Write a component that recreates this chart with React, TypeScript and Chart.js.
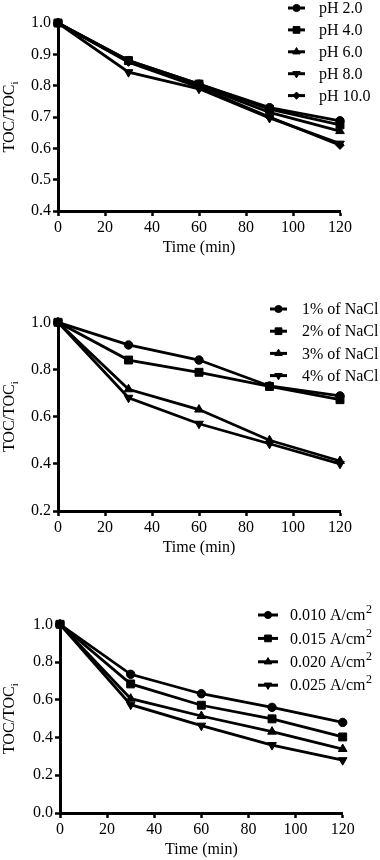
import React, { useEffect, useRef } from 'react';
import { Chart, registerables } from 'chart.js';
import { drawPoint } from 'chart.js/helpers';

Chart.register(...registerables);

const times = [0, 30, 60, 90, 120];

const phLabels = ['pH 2.0', 'pH 4.0', 'pH 6.0', 'pH 8.0', 'pH 10.0'];
const ph2 = [1.0, 0.88, 0.805, 0.73, 0.688];
const ph4 = [1.0, 0.88, 0.805, 0.725, 0.675];
const ph6 = [1.0, 0.877, 0.8, 0.715, 0.655];
const ph8 = [1.0, 0.843, 0.79, 0.697, 0.615];
const ph10 = [1.0, 0.875, 0.795, 0.7, 0.61];

const naclLabels = ['1% of NaCl', '2% of NaCl', '3% of NaCl', '4% of NaCl'];
const nacl1 = [1.0, 0.904, 0.84, 0.73, 0.688];
const nacl2 = [1.0, 0.84, 0.788, 0.728, 0.672];
const nacl3 = [1.0, 0.716, 0.63, 0.5, 0.412];
const nacl4 = [1.0, 0.68, 0.57, 0.485, 0.4];

const cdLabels = ['0.010 A/cm\u00B2', '0.015 A/cm\u00B2', '0.020 A/cm\u00B2', '0.025 A/cm\u00B2'];
const cd010 = [1.0, 0.735, 0.632, 0.56, 0.48];
const cd015 = [1.0, 0.684, 0.571, 0.499, 0.403];
const cd020 = [1.0, 0.606, 0.514, 0.431, 0.339];
const cd025 = [1.0, 0.574, 0.463, 0.36, 0.28];

const xTitle = 'Time (min)';
const yTitleMain = 'TOC/TOC';
const yTitleSub = 'i';

const FONT = '"Liberation Serif", "Times New Roman", serif';

const markers = [
  { pointStyle: 'circle', radius: 4.2, rotation: 0 },
  { pointStyle: 'rect', radius: 5.6, rotation: 0 },
  { pointStyle: 'triangle', radius: 5, rotation: 0 },
  { pointStyle: 'triangle', radius: 5, rotation: 180 },
  { pointStyle: 'rectRot', radius: 4.2, rotation: 0 },
];

type Area = { left: number; right: number; top: number; bottom: number };
type Leg = { x1: number; x2: number; textX: number; y0: number; dy: number };

function Panel(props: {
  top: number;
  height: number;
  labels: string[];
  series: number[][];
  yMin: number;
  yMax: number;
  yStep: number;
  area: Area;
  legend: Leg;
  xTitleY: number;
}) {
  const ref = useRef<HTMLCanvasElement | null>(null);
  useEffect(() => {
    const canvas = ref.current;
    if (!canvas) return;
    const W = 380;
    const H = props.height;
    const { area, legend } = props;
    const xH = 22;
    const datasets = props.series.map((vals, i) => ({
      label: props.labels[i],
      data: times.map((t, j) => ({ x: t, y: vals[j] })),
      borderColor: '#000',
      backgroundColor: '#000',
      borderWidth: 2.8,
      pointStyle: markers[i].pointStyle as any,
      pointRadius: markers[i].radius,
      pointRotation: markers[i].rotation,
      pointBorderWidth: 1,
      pointBorderColor: '#000',
      pointBackgroundColor: '#000',
      tension: 0,
      clip: false as any,
    }));
    const deco = {
      id: 'deco',
      afterDraw(chart: any) {
        const ctx = chart.ctx as CanvasRenderingContext2D;
        const ca = chart.chartArea;
        ctx.save();
        ctx.fillStyle = '#000';
        // x title
        ctx.font = `16px ${FONT}`;
        ctx.textAlign = 'center';
        ctx.textBaseline = 'middle';
        ctx.fillText(xTitle, (ca.left + ca.right) / 2, props.xTitleY);
        // y title
        ctx.save();
        ctx.translate(10, (ca.top + ca.bottom) / 2);
        ctx.rotate(-Math.PI / 2);
        ctx.font = `16px ${FONT}`;
        const wMain = ctx.measureText(yTitleMain).width;
        ctx.font = `11px ${FONT}`;
        const wSub = ctx.measureText(yTitleSub).width;
        const start = -(wMain + wSub) / 2;
        ctx.textAlign = 'left';
        ctx.textBaseline = 'middle';
        ctx.font = `16px ${FONT}`;
        ctx.fillText(yTitleMain, start, 0);
        ctx.font = `11px ${FONT}`;
        ctx.fillText(yTitleSub, start + wMain, 5);
        ctx.restore();
        // legend
        chart.data.datasets.forEach((ds: any, i: number) => {
          const y = legend.y0 + i * legend.dy;
          ctx.strokeStyle = '#000';
          ctx.lineWidth = 3;
          ctx.beginPath();
          ctx.moveTo(legend.x1, y);
          ctx.lineTo(legend.x2, y);
          ctx.stroke();
          ctx.fillStyle = '#000';
          ctx.lineWidth = 1;
          drawPoint(
            ctx,
            { pointStyle: markers[i].pointStyle as any, radius: markers[i].radius * 0.85, rotation: markers[i].rotation, borderWidth: 1 } as any,
            (legend.x1 + legend.x2) / 2,
            y
          );
          ctx.textAlign = 'left';
          ctx.textBaseline = 'middle';
          const label: string = ds.label;
          const supIdx = label.indexOf('\u00B2');
          if (supIdx >= 0) {
            const base = label.slice(0, supIdx);
            ctx.font = `16px ${FONT}`;
            ctx.fillText(base, legend.textX, y + 1);
            const bw = ctx.measureText(base).width;
            ctx.font = `12px ${FONT}`;
            ctx.fillText('2', legend.textX + bw + 0.5, y - 5);
          } else {
            ctx.font = `16px ${FONT}`;
            ctx.fillText(label, legend.textX, y + 1);
          }
        });
        ctx.restore();
      },
    };
    const chart = new Chart(canvas, {
      type: 'line',
      data: { datasets },
      options: {
        animation: false,
        responsive: false,
        devicePixelRatio: 1,
        layout: {
          padding: {
            left: 0,
            top: area.top,
            right: W - area.right,
            bottom: H - area.bottom - xH,
          },
        },
        plugins: { legend: { display: false }, tooltip: { enabled: false }, title: { display: false } },
        scales: {
          x: {
            type: 'linear',
            min: 0,
            max: 120,
            ticks: { stepSize: 20, color: '#000', font: { family: FONT, size: 16 }, padding: 2, maxRotation: 0 },
            grid: { display: true, drawOnChartArea: false, drawTicks: true, tickLength: 5, tickWidth: 2.5, tickColor: '#000' },
            border: { display: true, color: '#000', width: 3 },
            afterFit: (s: any) => {
              s.height = xH;
            },
          },
          y: {
            type: 'linear',
            min: props.yMin,
            max: props.yMax,
            ticks: {
              stepSize: props.yStep,
              color: '#000',
              font: { family: FONT, size: 16 },
              padding: 2,
              callback: (v: any) => Number(v).toFixed(1),
            },
            grid: { display: true, drawOnChartArea: false, drawTicks: true, tickLength: 5, tickWidth: 2.5, tickColor: '#000' },
            border: { display: true, color: '#000', width: 3 },
            afterFit: (s: any) => {
              s.width = area.left;
            },
          },
        },
      } as any,
      plugins: [deco],
    });
    return () => chart.destroy();
  }, []);
  return (
    <div style={{ position: 'absolute', left: 0, top: props.top, width: 380, height: props.height }}>
      <canvas ref={ref} width={380} height={props.height} style={{ width: 380, height: props.height, display: 'block' }} />
    </div>
  );
}

export default function App() {
  return (
    <div style={{ position: 'absolute', left: 0, top: 0, width: 380, height: 860, background: '#fff' }}>
      <Panel
        top={0}
        height={290}
        labels={phLabels}
        series={[ph2, ph4, ph6, ph8, ph10]}
        yMin={0.4}
        yMax={1.0}
        yStep={0.1}
        area={{ left: 58, right: 340, top: 23, bottom: 211 }}
        legend={{ x1: 288, x2: 305, textX: 319, y0: 8, dy: 21.9 }}
        xTitleY={248}
      />
      <Panel
        top={290}
        height={290}
        labels={naclLabels}
        series={[nacl1, nacl2, nacl3, nacl4]}
        yMin={0.2}
        yMax={1.0}
        yStep={0.2}
        area={{ left: 58, right: 340, top: 32.3, bottom: 221 }}
        legend={{ x1: 270, x2: 287, textX: 302, y0: 19, dy: 22.2 }}
        xTitleY={258}
      />
      <Panel
        top={580}
        height={280}
        labels={cdLabels}
        series={[cd010, cd015, cd020, cd025]}
        yMin={0}
        yMax={1.0}
        yStep={0.2}
        area={{ left: 60, right: 342.7, top: 44.3, bottom: 233 }}
        legend={{ x1: 258, x2: 278, textX: 290, y0: 35, dy: 23.4 }}
        xTitleY={270}
      />
    </div>
  );
}
